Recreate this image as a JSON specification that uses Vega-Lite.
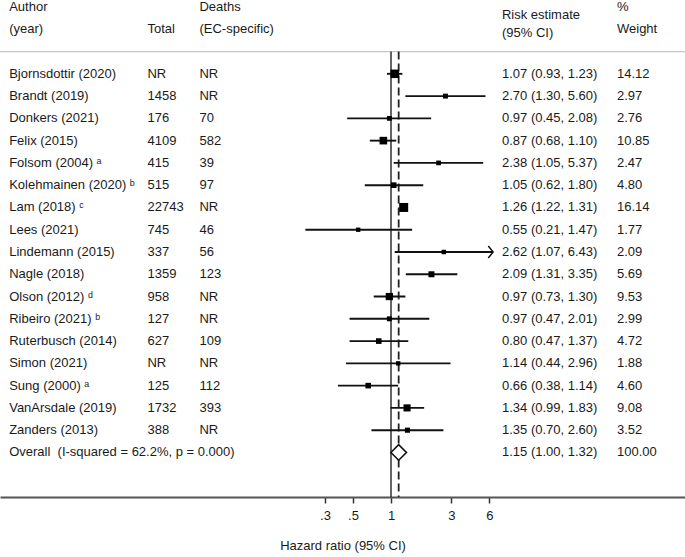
{
  "$schema": "https://vega.github.io/schema/vega-lite/v6.json",
  "width": 685,
  "height": 490,
  "autosize": {"type": "none"},
  "padding": {"top": 7, "bottom": 60, "left": 0, "right": 0},
  "background": "white",
  "config": {
    "view": {"stroke": null},
    "text": {"font": "Liberation Sans, DejaVu Sans", "fontSize": 13, "color": "#1a1a1a"},
    "axisX": {
      "labelFont": "Liberation Sans",
      "labelFontSize": 13,
      "labelColor": "#1a1a1a",
      "titleFont": "Liberation Sans",
      "titleFontSize": 13,
      "titleFontWeight": "normal",
      "titleColor": "#1a1a1a",
      "tickSize": 6,
      "tickColor": "#333333",
      "tickWidth": 1.5,
      "domainColor": "#555555",
      "domainWidth": 2,
      "grid": false,
      "labelPadding": 6,
      "titlePadding": 17,
      "labelFlush": false,
      "labelOverlap": false
    }
  },
  "datasets": {
    "rows": [
      {"row": "h1", "kind": "header", "author": "Author", "total": "", "deaths": "Deaths", "wlabel": "%"},
      {"row": "h2", "kind": "header", "author": "(year)", "total": "Total", "deaths": "(EC-specific)", "wlabel": "Weight"},
      {"row": "Bjornsdottir (2020)", "kind": "study", "author": "Bjornsdottir (2020)", "total": "NR", "deaths": "NR", "est": 1.07, "lo": 0.93, "hi": 1.23, "weight": 14.12},
      {"row": "Brandt (2019)", "kind": "study", "author": "Brandt (2019)", "total": "1458", "deaths": "NR", "est": 2.70, "lo": 1.30, "hi": 5.60, "weight": 2.97},
      {"row": "Donkers (2021)", "kind": "study", "author": "Donkers (2021)", "total": "176", "deaths": "70", "est": 0.97, "lo": 0.45, "hi": 2.08, "weight": 2.76},
      {"row": "Felix (2015)", "kind": "study", "author": "Felix (2015)", "total": "4109", "deaths": "582", "est": 0.87, "lo": 0.68, "hi": 1.10, "weight": 10.85},
      {"row": "Folsom (2004)", "kind": "study", "author": "Folsom (2004) ᵃ", "total": "415", "deaths": "39", "est": 2.38, "lo": 1.05, "hi": 5.37, "weight": 2.47},
      {"row": "Kolehmainen (2020)", "kind": "study", "author": "Kolehmainen (2020) ᵇ", "total": "515", "deaths": "97", "est": 1.05, "lo": 0.62, "hi": 1.80, "weight": 4.80},
      {"row": "Lam (2018)", "kind": "study", "author": "Lam (2018) ᶜ", "total": "22743", "deaths": "NR", "est": 1.26, "lo": 1.22, "hi": 1.31, "weight": 16.14},
      {"row": "Lees (2021)", "kind": "study", "author": "Lees (2021)", "total": "745", "deaths": "46", "est": 0.55, "lo": 0.21, "hi": 1.47, "weight": 1.77},
      {"row": "Lindemann (2015)", "kind": "study", "author": "Lindemann (2015)", "total": "337", "deaths": "56", "est": 2.62, "lo": 1.07, "hi": 6.43, "weight": 2.09},
      {"row": "Nagle (2018)", "kind": "study", "author": "Nagle (2018)", "total": "1359", "deaths": "123", "est": 2.09, "lo": 1.31, "hi": 3.35, "weight": 5.69},
      {"row": "Olson (2012)", "kind": "study", "author": "Olson (2012) ᵈ", "total": "958", "deaths": "NR", "est": 0.97, "lo": 0.73, "hi": 1.30, "weight": 9.53},
      {"row": "Ribeiro (2021)", "kind": "study", "author": "Ribeiro (2021) ᵇ", "total": "127", "deaths": "NR", "est": 0.97, "lo": 0.47, "hi": 2.01, "weight": 2.99},
      {"row": "Ruterbusch (2014)", "kind": "study", "author": "Ruterbusch (2014)", "total": "627", "deaths": "109", "est": 0.80, "lo": 0.47, "hi": 1.37, "weight": 4.72},
      {"row": "Simon (2021)", "kind": "study", "author": "Simon (2021)", "total": "NR", "deaths": "NR", "est": 1.14, "lo": 0.44, "hi": 2.96, "weight": 1.88},
      {"row": "Sung (2000)", "kind": "study", "author": "Sung (2000) ᵃ", "total": "125", "deaths": "112", "est": 0.66, "lo": 0.38, "hi": 1.14, "weight": 4.60},
      {"row": "VanArsdale (2019)", "kind": "study", "author": "VanArsdale (2019)", "total": "1732", "deaths": "393", "est": 1.34, "lo": 0.99, "hi": 1.83, "weight": 9.08},
      {"row": "Zanders (2013)", "kind": "study", "author": "Zanders (2013)", "total": "388", "deaths": "NR", "est": 1.35, "lo": 0.70, "hi": 2.60, "weight": 3.52},
      {"row": "Overall", "kind": "overall", "author": "Overall\u00a0 (I-squared = 62.2%, p = 0.000)", "total": "", "deaths": "", "est": 1.15, "lo": 1.00, "hi": 1.32, "weight": 100.00}
    ]
  },
  "encoding": {
    "y": {
      "field": "row",
      "type": "nominal",
      "axis": null,
      "scale": {
        "type": "point",
        "padding": 0,
        "domain": ["h1", "h2", "sep", "Bjornsdottir (2020)", "Brandt (2019)", "Donkers (2021)", "Felix (2015)", "Folsom (2004)", "Kolehmainen (2020)", "Lam (2018)", "Lees (2021)", "Lindemann (2015)", "Nagle (2018)", "Olson (2012)", "Ribeiro (2021)", "Ruterbusch (2014)", "Simon (2021)", "Sung (2000)", "VanArsdale (2019)", "Zanders (2013)", "Overall", "b1", "b2"]
      }
    }
  },
  "layer": [
    {
      "data": {"name": "rows"},
      "transform": [
        {"calculate": "datum.kind == 'header' ? '' : format(datum.est, '.2f') + ' (' + format(datum.lo, '.2f') + ', ' + format(datum.hi, '.2f') + ')'", "as": "ci"},
        {"calculate": "datum.kind == 'header' ? datum.wlabel : format(datum.weight, '.2f')", "as": "wt"}
      ],
      "layer": [
        {
          "mark": {"type": "text", "align": "left", "baseline": "middle"},
          "encoding": {
            "x": {"datum": 1.34, "type": "quantitative", "scale": {"domain": [0, 100]}, "axis": null},
            "text": {"field": "author"}
          }
        },
        {
          "mark": {"type": "text", "align": "left", "baseline": "middle"},
          "encoding": {
            "x": {"datum": 21.53, "type": "quantitative", "scale": {"domain": [0, 100]}, "axis": null},
            "text": {"field": "total"}
          }
        },
        {
          "mark": {"type": "text", "align": "left", "baseline": "middle"},
          "encoding": {
            "x": {"datum": 29.12, "type": "quantitative", "scale": {"domain": [0, 100]}, "axis": null},
            "text": {"field": "deaths"}
          }
        },
        {
          "mark": {"type": "text", "align": "left", "baseline": "middle"},
          "encoding": {
            "x": {"datum": 73.28, "type": "quantitative", "scale": {"domain": [0, 100]}, "axis": null},
            "text": {"field": "ci"}
          }
        },
        {
          "mark": {"type": "text", "align": "left", "baseline": "middle"},
          "encoding": {
            "x": {"datum": 90.07, "type": "quantitative", "scale": {"domain": [0, 100]}, "axis": null},
            "text": {"field": "wt"}
          }
        },
        {
          "data": {"values": [{"row": "h2", "t": "Risk estimate\n(95% CI)"}]},
          "mark": {"type": "text", "align": "left", "baseline": "middle", "lineBreak": "\n", "lineHeight": 18, "dy": -14.3},
          "encoding": {
            "x": {"datum": 73.28, "type": "quantitative", "scale": {"domain": [0, 100]}, "axis": null},
            "text": {"field": "t"}
          }
        }
      ]
    },
    {
      "layer": [
        {
          "data": {"values": [{}]},
          "mark": {"type": "rule", "color": "#c8c8c8", "strokeWidth": 1.2},
          "encoding": {"y": {"datum": "sep"}}
        },
        {
          "data": {"values": [{}]},
          "mark": {"type": "rule", "color": "#111111", "strokeWidth": 1.3},
          "encoding": {
            "x": {
              "datum": 1,
              "type": "quantitative",
              "scale": {"type": "log", "domain": [0.000802, 212.7], "nice": false, "zero": false},
              "axis": {
                "values": [0.3, 0.5, 1, 3, 6],
                "labelExpr": "datum.value < 1 ? replace(format(datum.value, '.1f'), '0.', '.') : format(datum.value, 'd')",
                "title": "Hazard ratio (95% CI)"
              }
            },
            "y": {"datum": "sep"},
            "y2": {"datum": "b2"}
          }
        },
        {
          "data": {"values": [{}]},
          "mark": {"type": "rule", "color": "#222222", "strokeWidth": 1.8, "strokeDash": [8, 4]},
          "encoding": {
            "x": {"datum": 1.15, "type": "quantitative", "title": "Hazard ratio (95% CI)"},
            "y": {"datum": "sep"},
            "y2": {"datum": "b2"}
          }
        },
        {
          "data": {"name": "rows"},
          "transform": [{"filter": "datum.kind == 'study'"}],
          "mark": {"type": "rule", "color": "#111111", "strokeWidth": 1.9},
          "encoding": {
            "x": {"field": "lo", "type": "quantitative", "title": "Hazard ratio (95% CI)"},
            "x2": {"field": "hi"}
          }
        },
        {
          "data": {"name": "rows"},
          "transform": [{"filter": "datum.kind == 'study' && datum.hi > 6"}],
          "mark": {"type": "point", "shape": "M-0.8,-1L0,0L-0.8,1", "size": 144, "filled": false, "color": "#111111", "strokeWidth": 1.5, "opacity": 1},
          "encoding": {
            "x": {"field": "hi", "type": "quantitative", "title": "Hazard ratio (95% CI)"}
          }
        },
        {
          "data": {"name": "rows"},
          "transform": [{"filter": "datum.kind == 'study'"}],
          "mark": {"type": "square", "filled": true, "color": "#000000", "opacity": 1},
          "encoding": {
            "x": {"field": "est", "type": "quantitative", "title": "Hazard ratio (95% CI)"},
            "size": {"field": "weight", "type": "quantitative", "legend": null, "scale": {"type": "linear", "domain": [0, 16.14], "range": [11, 81]}}
          }
        },
        {
          "data": {"name": "rows"},
          "transform": [{"filter": "datum.kind == 'overall'"}],
          "mark": {"type": "point", "shape": "diamond", "size": 240, "filled": true, "fill": "white", "stroke": "#111111", "strokeWidth": 1.6, "opacity": 1},
          "encoding": {
            "x": {"field": "est", "type": "quantitative", "title": "Hazard ratio (95% CI)"}
          }
        }
      ]
    }
  ],
  "resolve": {"scale": {"x": "independent"}}
}
